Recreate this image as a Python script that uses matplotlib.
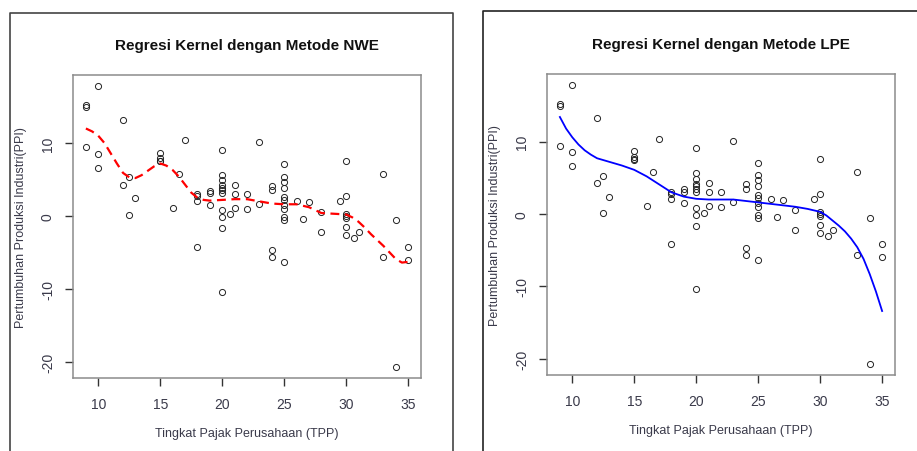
import matplotlib
matplotlib.use("Agg")
import matplotlib.pyplot as plt
from matplotlib.lines import Line2D

# data (same scatter in both panels)
tpp = [9, 9, 9, 10, 10, 10, 12, 12, 12.5, 12.5, 13,
       15, 15, 15, 15, 16, 16.5, 17, 18, 18, 18, 18,
       19, 19, 19, 20, 20, 20, 20, 20, 20, 20, 20, 20, 20, 20,
       20.6, 21, 21, 21, 22, 22, 23, 23, 24, 24, 24, 24,
       25, 25, 25, 25, 25, 25, 25, 25, 25, 25, 25,
       26, 26.5, 27, 28, 28, 29.5, 30, 30, 30, 30, 30, 30, 30,
       30.6, 31, 33, 33, 34, 34, 35, 35]
ppi = [15.2, 14.9, 9.4, 17.8, 8.5, 6.6, 13.2, 4.3, 5.3, 0.1, 2.4,
       8.7, 7.9, 7.6, 7.5, 1.1, 5.8, 10.4, 3.0, 2.8, 2.1, -4.2,
       3.4, 3.1, 1.5, 9.1, 5.6, 4.9, 4.2, 3.9, 3.5, 3.1, 0.8, -0.1, -1.7, -10.4,
       0.2, 4.3, 3.0, 1.1, 3.0, 0.9, 10.1, 1.6, 4.1, 3.5, -4.7, -5.6,
       7.1, 5.4, 4.7, 3.9, 2.6, 2.2, 1.5, 0.9, -0.1, -0.6, -6.3,
       2.1, -0.4, 1.9, 0.5, -2.2, 2.1, 7.6, 2.7, 0.3, 0.0, -0.3, -1.5, -2.6,
       -3.0, -2.2, 5.8, -5.7, -0.5, -20.7, -4.2, -6.0]

# NWE fit (red dashed)
nwe_x = [9, 9.5, 10, 10.5, 11, 11.5, 12, 12.5, 13, 13.5, 14, 14.5, 15, 15.5, 16,
         16.5, 17, 17.5, 18, 18.5, 19, 20, 21, 22, 23, 24, 25, 26, 27, 27.5, 28,
         29, 30, 30.5, 31, 31.5, 32, 32.5, 33, 33.5, 34, 34.5, 35]
nwe_y = [12.0, 11.6, 11.0, 10.0, 8.6, 7.2, 5.9, 5.3, 5.2, 5.6, 6.2, 6.8, 7.2, 6.9, 6.3,
         5.4, 4.3, 3.2, 2.5, 2.2, 2.1, 2.2, 2.3, 2.3, 2.0, 1.7, 1.6, 1.6, 1.2, 0.8, 0.4,
         0.3, 0.2, -0.2, -0.8, -1.6, -2.5, -3.3, -4.1, -5.0, -5.9, -6.4, -6.3]

# LPE fit (blue solid)
lpe_x = [9, 9.5, 10, 10.5, 11, 11.5, 12, 13, 14, 15, 16, 17, 18, 19, 20, 21, 22,
         23, 24, 25, 26, 27, 28, 29, 30, 30.5, 31, 31.5, 32, 32.5, 33, 33.5, 34,
         34.5, 35]
lpe_y = [13.4, 11.8, 10.6, 9.6, 8.8, 8.2, 7.7, 7.2, 6.7, 6.1, 5.2, 4.1, 3.0, 2.4,
         2.1, 2.0, 2.0, 2.0, 1.8, 1.6, 1.4, 1.2, 1.0, 0.7, 0.3, -0.2, -0.9, -1.6,
         -2.4, -3.4, -4.6, -6.2, -8.3, -10.7, -13.4]

W, H = 917, 452
fig = plt.figure(figsize=(W / 100, H / 100), dpi=100)
plt.rcParams['font.family'] = ['Liberation Sans', 'DejaVu Sans']
plt.rcParams['axes.unicode_minus'] = False

def px(x, y):
    return x / W, 1 - y / H

# screenshot frames
fig.add_artist(Line2D([10 / W, 10 / W, 453 / W, 453 / W],
                      [0, 1 - 14 / H, 1 - 14 / H, 0], color='#444444', lw=1.2))
fig.add_artist(Line2D([483 / W, 483 / W, 1.0],
                      [0, 1 - 12 / H, 1 - 12 / H], color='#222222', lw=1.2))

def panel(left, top, right, bottom, title, fx, fy, style):
    x0, y1 = px(left, top)
    x1, y0 = px(right, bottom)
    ax = fig.add_axes([x0, y0, x1 - x0, y1 - y0])
    ax.plot(tpp, ppi, linestyle='none', marker='o', markersize=4.4,
            markerfacecolor='none', markeredgecolor='#222222', markeredgewidth=0.7)
    ax.plot(fx, fy, **style)
    xr = max(tpp) - min(tpp)
    yr = max(ppi) - min(ppi)
    ax.set_xlim(min(tpp) - 0.04 * xr, max(tpp) + 0.04 * xr)
    ax.set_ylim(min(ppi) - 0.04 * yr, max(ppi) + 0.04 * yr)
    ax.set_xticks([10, 15, 20, 25, 30, 35])
    ax.set_yticks([-20, -10, 0, 10])
    for s in ax.spines.values():
        s.set_color('#8c8c8c')
        s.set_linewidth(1.1)
    ax.tick_params(direction='out', length=6, width=1, color='#333333',
                   labelsize=10, labelcolor='#3a3a4a')
    ax.tick_params(axis='x', pad=8)
    ax.tick_params(axis='y', pad=7)
    for lab in ax.get_yticklabels():
        lab.set_rotation(90)
        lab.set_va('center')
    cx = (left + right) / 2
    fig.text(*px(cx, top - 30), title, ha='center', va='center',
             fontsize=11, fontweight='bold', color='#111111')
    fig.text(*px(cx, bottom + 55), 'Tingkat Pajak Perusahaan (TPP)',
             ha='center', va='center', fontsize=9, color='#3a3a4a')
    fig.text(*px(left - 52, (top + bottom) / 2), 'Pertumbuhan Produksi Industri(PPI)',
             ha='center', va='center', rotation=90, fontsize=9, color='#3a3a4a')
    return ax

panel(73, 76, 421, 379, 'Regresi Kernel dengan Metode NWE', nwe_x, nwe_y,
      dict(color='red', linestyle=(0, (4, 2.5)), linewidth=1.6))
panel(547, 75, 895, 376, 'Regresi Kernel dengan Metode LPE', lpe_x, lpe_y,
      dict(color='blue', linestyle='-', linewidth=1.3))

fig.savefig('out.png', dpi=100)
